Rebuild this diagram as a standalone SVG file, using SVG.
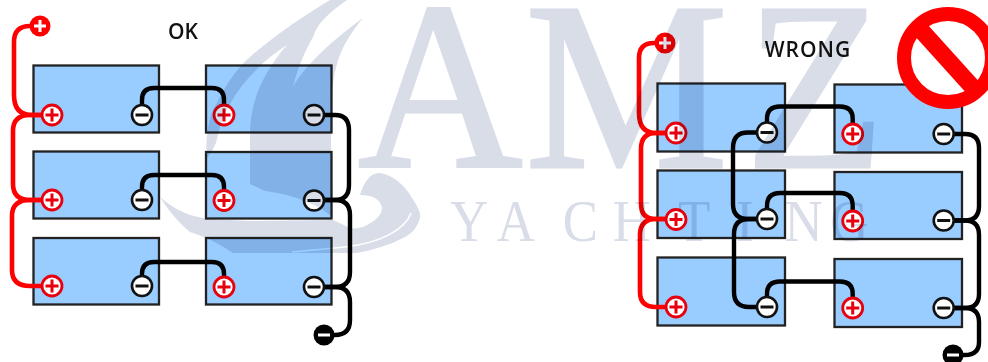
<svg xmlns="http://www.w3.org/2000/svg" width="988" height="362" viewBox="0 0 988 362">
<style>
.bat{fill:#99ccff;stroke:#222;stroke-width:2.3}
.red{fill:none;stroke:#f00;stroke-width:4.6}
.blk{fill:none;stroke:#000;stroke-width:4.4}
.pc{fill:#fff;stroke:#e8000f;stroke-width:2.8}
.pb{stroke:#e8000f;stroke-width:3;fill:none}
.mc{fill:#fff;stroke:#111;stroke-width:2.6}
.mb{stroke:#111;stroke-width:3;fill:none}
.wb{stroke:#fff;stroke-width:3;fill:none}
.lbl{font-family:"Open Sans",sans-serif;font-weight:600;fill:#111;text-anchor:middle}
.wm{font-family:"Liberation Serif",serif;fill:#d8dde8}
</style>
<defs>
<g id="pos"><circle class="pc" r="10"/><path class="pb" d="M-6.500,0H6.500M0,-6.500V6.500"/></g>
<g id="neg"><circle class="mc" r="10"/><path class="mb" d="M-6.500,0H6.500"/></g>
</defs>
<rect width="988" height="362" fill="#fff"/>
<g id="ok-batteries">
<rect class="bat" x="33.500" y="65.500" width="125.500" height="67"/>
<rect class="bat" x="33.500" y="151.500" width="125.500" height="67"/>
<rect class="bat" x="33.500" y="238" width="125.500" height="66.500"/>
<rect class="bat" x="206" y="65.500" width="125.500" height="67"/>
<rect class="bat" x="206" y="152" width="125.500" height="66.500"/>
<rect class="bat" x="206" y="238" width="125.500" height="66.500"/>
</g>
<g id="wrong-batteries">
<rect class="bat" x="657.500" y="83.500" width="127.500" height="68"/>
<rect class="bat" x="657.500" y="170.500" width="127.500" height="67.500"/>
<rect class="bat" x="657.500" y="257.500" width="127.500" height="68"/>
<rect class="bat" x="834.500" y="84.500" width="127.500" height="68"/>
<rect class="bat" x="834.500" y="172" width="127.500" height="67"/>
<rect class="bat" x="834.500" y="259" width="127.500" height="68"/>
</g>
<g id="connectors">
<path class="red" d="M40,26H30Q14,26 14,42V95Q14,115 32,115H52"/>
<path class="red" d="M52,115H30Q13,115 13,131V184Q13,200 30,200H52"/>
<path class="red" d="M52,200H30Q12,200 12,216V270Q12,286 30,286H52"/>
<path class="blk" d="M142,115V100Q142,88 154,88H212Q224,88 224,100V115"/>
<path class="blk" d="M142,200V187Q142,175 154,175H212Q224,175 224,187V200"/>
<path class="blk" d="M142,286V274Q142,262 154,262H212Q224,262 224,274V287"/>
<path class="blk" d="M314,115H335Q349,115 349,130V185Q349,200 335,200H314"/>
<path class="blk" d="M314,200H335Q350,200 350,215V272Q350,287 335,287H314"/>
<path class="blk" d="M314,287H335Q350,287 350,302V320Q350,335 335,335H324"/>
<path class="red" d="M665,43H654Q639,43 639,58V113Q639,133 656,133H676"/>
<path class="red" d="M676,133H656Q641,133 641,149V204Q641,219 656,219H676"/>
<path class="red" d="M676,219H656Q640,219 640,235V292Q640,307 656,307H676"/>
<path class="blk" d="M767,132V119Q767,106.500 780,106.500H840Q852.700,106.500 852.700,119V134"/>
<path class="blk" d="M767,219V206Q767,193 780,193H840Q852.700,193 852.700,206V221"/>
<path class="blk" d="M767,307V294Q767,281.500 780,281.500H840Q852.700,281.500 852.700,294V308"/>
<path class="blk" d="M767,132.500H748Q733,132.500 733,148V204Q733,219 748,219H767"/>
<path class="blk" d="M767,219H749Q734,219 734,234V292Q734,307 749,307H767"/>
<path class="blk" d="M943.700,134H965Q979,134 979,148V206Q979,220.500 965,220.500H943.700"/>
<path class="blk" d="M943.700,220.500H965Q979,220.500 979,235V294Q979,308 965,308H943.700"/>
<path class="blk" d="M943.700,308H965Q979,308 979,322V342Q979,355 965,355H953"/>
</g>
<g id="ok-terminals">
<use href="#pos" x="52" y="115"/><use href="#pos" x="52" y="200"/><use href="#pos" x="52" y="286"/>
<use href="#neg" x="142" y="115"/><use href="#neg" x="142" y="200"/><use href="#neg" x="142" y="286"/>
<use href="#pos" x="224" y="115"/><use href="#pos" x="224" y="200.500"/><use href="#pos" x="224" y="287"/>
<use href="#neg" x="314" y="115"/><use href="#neg" x="314" y="200.500"/><use href="#neg" x="314" y="287"/>
</g>
<g id="wrong-terminals">
<use href="#pos" x="676" y="133"/><use href="#pos" x="676" y="219.500"/><use href="#pos" x="676" y="307"/>
<use href="#neg" x="767" y="132.500"/><use href="#neg" x="767" y="219"/><use href="#neg" x="767" y="307"/>
<use href="#pos" x="852.700" y="134"/><use href="#pos" x="852.700" y="221"/><use href="#pos" x="852.700" y="308"/>
<use href="#neg" x="943.700" y="134"/><use href="#neg" x="943.700" y="220.500"/><use href="#neg" x="943.700" y="308"/>
</g>
<g id="ok-pos-main"><circle cx="40" cy="26" r="10.500" fill="#f00"/><path class="wb" d="M34,26H46M40,20V32"/></g>
<g id="ok-neg-main"><circle cx="324" cy="335" r="10.500" fill="#000"/><path class="wb" d="M318,335H330"/></g>
<g id="wrong-pos-main"><circle cx="665" cy="43" r="10.500" fill="#f00"/><path class="wb" d="M659,43H671M665,37V49"/></g>
<g id="wrong-neg-main"><circle cx="953" cy="355" r="10.500" fill="#000"/><path class="wb" d="M947,355H959"/></g>
<text class="lbl" x="183" y="39" font-size="21">OK</text>
<text class="lbl" x="808" y="56.500" font-size="21" letter-spacing="1">WRONG</text>
<g id="watermark" style="mix-blend-mode:multiply">
<path fill="#d8dde8" d="M330,0L347,0C330,12 318,22 313,37C303,55 297,70 293,87C305,65 335,38 363,18C345,40 333,60 332,100L331,140L333,218C320,205 295,195 265,191L250,184L250,133C250,100 265,70 287,45C255,65 225,100 218,135C216,145 213,150 207,158C205,140 208,115 217,103C225,85 240,65 250,57C275,35 305,15 330,0Z"/>
<path fill="#d8dde8" d="M360,195C364,182 370,173 379,173C392,174 405,185 412,198C418,207 421,213 420,218C417,228 412,234 403,238C390,245 372,250 357,253L233,253C224,247 215,242 207,238L190,232C178,222 168,210 160,197C170,206 180,211 190,215L207,219L250,221L333,220L350,228C355,229 360,228 365,226C374,222 382,215 382,208C381,201 375,197 369,196C366,195 363,195 360,195Z"/>
<path fill="none" stroke="#fff" stroke-width="1.600" d="M292,252C312,250 328,249 345,247C380,243 405,230 411,213"/>
<text class="wm" transform="translate(358,167) scale(.95,1)" font-size="240" stroke="#d8dde8" stroke-width="3" x="0 176 408" y="0">AMZ</text>
<text class="wm" transform="translate(450,241) scale(.88,1)" font-size="60" x="0 53 128 185 259 325 380 432" y="0">YACHTING</text>
</g>
<g id="prohibited">
<circle cx="948" cy="58" r="44" fill="#fff" stroke="#f00" stroke-width="14"/>
<path d="M920,29L976,91" stroke="#f00" stroke-width="17" fill="none"/>
</g>
</svg>
